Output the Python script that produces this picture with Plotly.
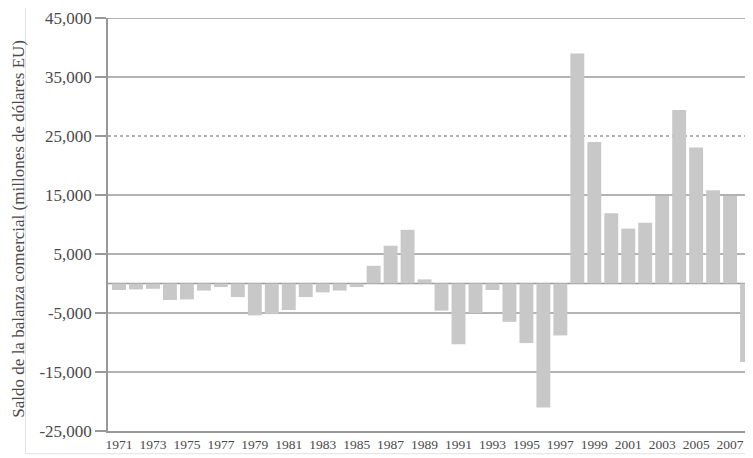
import plotly.graph_objects as go

years = list(range(1971, 2009))
saldo = [-1100, -1000, -900, -2800, -2700, -1200, -600, -2300, -5400, -5200,
         -4500, -2300, -1500, -1200, -600, 3000, 6400, 9100, 700, -4600,
         -10300, -5000, -1100, -6500, -10100, -21000, -8800, 39000, 24000, 11900,
         9300, 10300, 14850, 29400, 23050, 15800, 14850, -13300]
y_ticks = [-25000, -15000, -5000, 5000, 15000, 25000, 35000, 45000]
y_ticktext = ["-25,000", "-15,000", "-5,000", "5,000", "15,000", "25,000", "35,000", "45,000"]
x_ticks = list(range(1971, 2008, 2))
y_title = "Saldo de la balanza comercial (millones de dólares EU)"

SERIF = "'Liberation Serif', 'DejaVu Serif', serif"

fig = go.Figure()
fig.add_trace(go.Bar(x=years, y=saldo, marker=dict(color="#c8c8c8", line=dict(width=0)),
                     showlegend=False))

shapes = []
for v in y_ticks[1:] + [0]:
    shapes.append(dict(type="line", xref="paper", x0=0, x1=1, yref="y", y0=v, y1=v,
                       line=dict(color="#999999", width=1.5,
                                 dash="dot" if v == 25000 else "solid"),
                       layer="below"))
shapes.append(dict(type="rect", xref="paper", yref="paper", x0=-0.128, x1=1.0,
                   y0=-0.055, y1=1.03, line=dict(color="#e2e2e2", width=1)))
fig.update_layout(shapes=shapes)

fig.add_annotation(text=y_title, xref="paper", yref="paper", x=0, y=0.49,
                   xanchor="center", yanchor="middle", xshift=-89, textangle=-90,
                   showarrow=False, font=dict(size=17, family=SERIF, color="#4a4a4a"))

fig.update_layout(
    width=745, height=450,
    margin=dict(l=100, r=0, t=10, b=27),
    paper_bgcolor="white", plot_bgcolor="white",
    bargap=0.18,
    font=dict(family=SERIF, color="#4a4a4a"),
    xaxis=dict(range=[1970.35, 2008.35], tickmode="array", tickvals=x_ticks,
               ticktext=[str(t) for t in x_ticks], tickfont=dict(size=13.5, family=SERIF),
               showgrid=False, zeroline=False, showline=True, linecolor="#999999",
               linewidth=1.5, ticks="", tickangle=0),
    yaxis=dict(range=[-25000, 45000], tickmode="array", tickvals=y_ticks,
               ticktext=y_ticktext, tickfont=dict(size=17, family=SERIF),
               showgrid=False, zeroline=False, showline=True, linecolor="#999999",
               linewidth=1.5, ticks="outside", ticklen=11, tickcolor="#999999",
               tickwidth=1.5),
)

fig.write_html("out.html")
